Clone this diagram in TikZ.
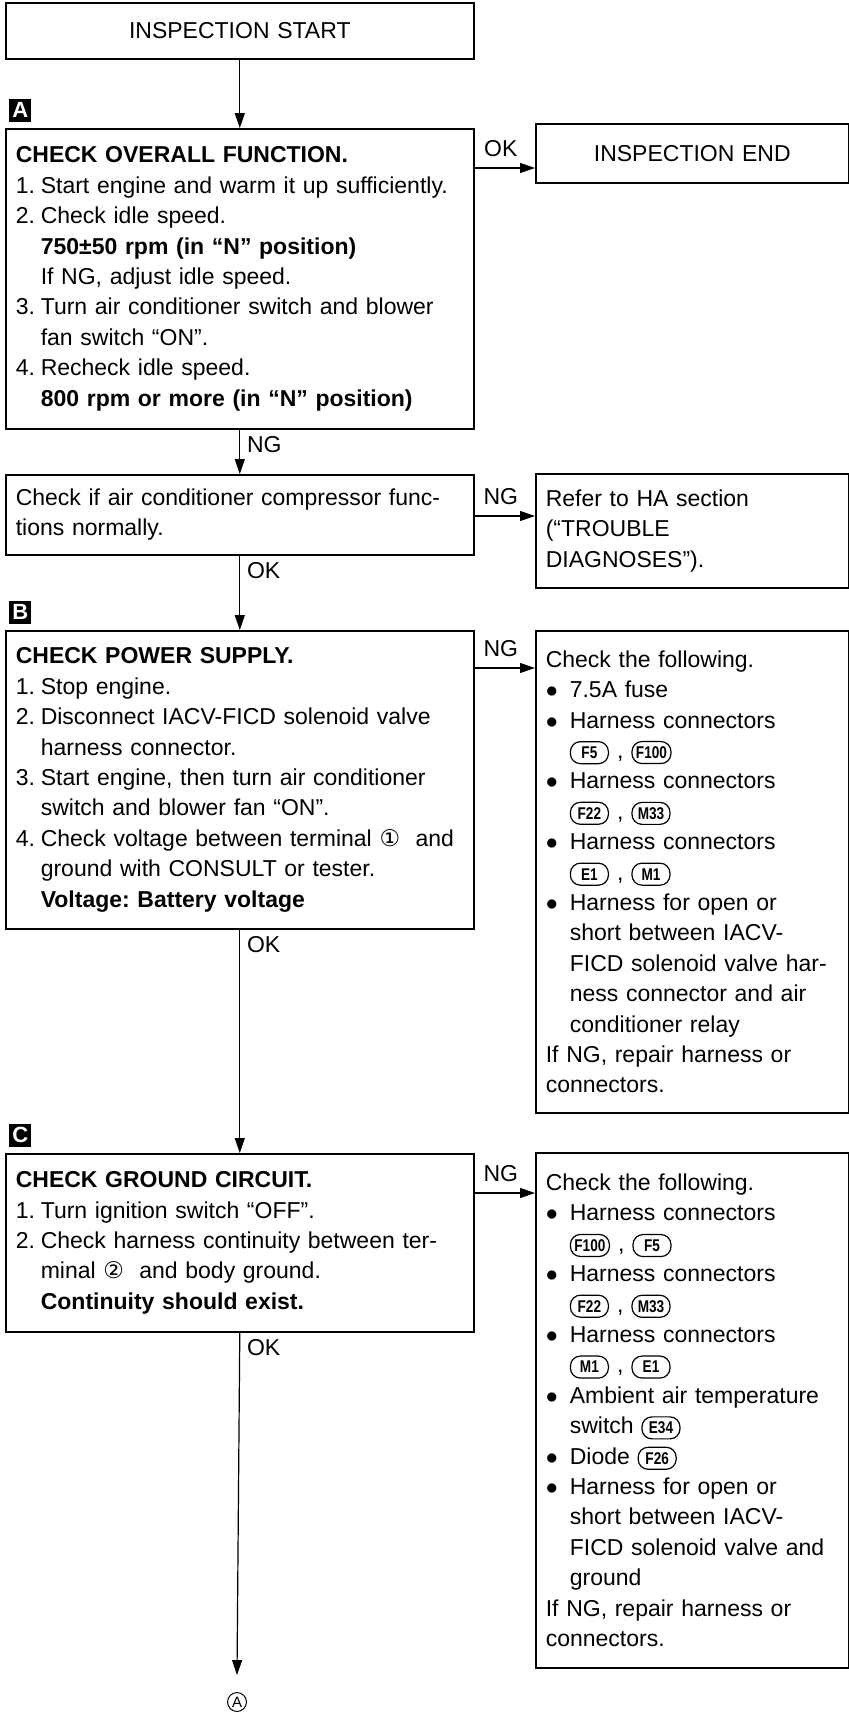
\documentclass[tikz,border=0pt]{standalone}
\usepackage{fontspec}
\setmainfont{Liberation Sans}
\newfontfamily\symfont{DejaVu Sans}
\newfontfamily\badgefont{Liberation Sans}[FakeStretch=0.8]
\usetikzlibrary{arrows.meta,positioning,calc}
\frenchspacing
\hyphenpenalty=10000

% numbered steps, bullets and inline connector badges
\newcommand{\stp}[1]{\makebox[12.5pt][l]{#1}}
\newcommand{\ind}{\hspace*{12.5pt}}
\newcommand{\bul}{\makebox[12pt][l]{$\bullet$}}
\newcommand{\bind}{\hspace*{12pt}}
\newcommand{\pin}[1]{{\symfont #1}}
\newcommand{\conn}[1]{\tikz[baseline=(c.base)]\node[badge](c){#1};}
\newcommand{\sep}{\hspace{4pt},\hspace{4pt}}

\tikzset{
  badge/.style={draw, line width=0.6pt, rounded corners=5pt, anchor=base,
    inner xsep=2pt, inner ysep=0pt, minimum width=19pt, minimum height=11pt,
    text width={}, align=center, font=\badgefont\bfseries\fontsize{8.5}{8.5}\selectfont}
}

\begin{document}
\begin{tikzpicture}[x=0.5pt,y=-0.5pt,
  box/.style={draw, line width=0.8pt, anchor=north west, inner xsep=5pt,
    inner ysep=0pt, align=left, font=\fontsize{11.5}{15.2}\selectfont},
  lbox/.style={box, minimum width=234pt, text width=224pt},
  rbox/.style={box, minimum width=156.5pt, text width=146.5pt},
  tag/.style={fill=black, text=white, inner sep=0pt, minimum width=11pt,
    minimum height=11.5pt, font=\bfseries\fontsize{11}{11}\selectfont},
  lab/.style={font=\fontsize{11.5}{14}\selectfont},
  flow/.style={line width=0.6pt, -{Triangle[length=7.5pt,width=5pt]}}]
\useasboundingbox (0,0) rectangle (849,1719);

% Boxes on the main line
\node[lbox, align=center, minimum height=28pt] (start) at (5,2) {INSPECTION START};

\node[lbox, minimum height=150pt] (chkA) at (5,128) {%
\textbf{CHECK OVERALL FUNCTION.}\\
\stp{1.}Start engine and warm it up sufficiently.\\
\stp{2.}Check idle speed.\\
\ind\textbf{750±50 rpm (in “N” position)}\\
\ind If NG, adjust idle speed.\\
\stp{3.}Turn air conditioner switch and blower\\
\ind fan switch “ON”.\\
\stp{4.}Recheck idle speed.\\
\ind\textbf{800 rpm or more (in “N” position)}};

\node[lbox, minimum height=40pt] (comp) at (5,474) {%
Check if air conditioner compressor func-\\
tions normally.};

\node[lbox, minimum height=149pt] (chkB) at (5,630) {%
\textbf{CHECK POWER SUPPLY.}\\
\stp{1.}Stop engine.\\
\stp{2.}Disconnect IACV-FICD solenoid valve\\
\ind harness connector.\\
\stp{3.}Start engine, then turn air conditioner\\
\ind switch and blower fan “ON”.\\
\stp{4.}Check voltage between terminal \pin{①}\ \ and\\
\ind ground with CONSULT or tester.\\
\ind\textbf{Voltage: Battery voltage}};

\node[lbox, minimum height=89pt] (chkC) at (5,1153) {%
\textbf{CHECK GROUND CIRCUIT.}\\
\stp{1.}Turn ignition switch “OFF”.\\
\stp{2.}Check harness continuity between ter-\\
\ind minal \pin{②}\ \ and body ground.\\
\ind\textbf{Continuity should exist.}};

% Boxes on the right
\node[rbox, align=center, minimum height=29.5pt] (endA) at (535,123) {INSPECTION END};

\node[rbox, minimum height=57pt] (refHA) at (535,473) {%
Refer to HA section\\
(“TROUBLE\\
DIAGNOSES”).};

\node[rbox, minimum height=241pt] (listB) at (535,630) {%
Check the following.\\
\bul 7.5A fuse\\
\bul Harness connectors\\
\bind\conn{F5}\sep\conn{F100}\\
\bul Harness connectors\\
\bind\conn{F22}\sep\conn{M33}\\
\bul Harness connectors\\
\bind\conn{E1}\sep\conn{M1}\\
\bul Harness for open or\\
\bind short between IACV-\\
\bind FICD solenoid valve har-\\
\bind ness connector and air\\
\bind conditioner relay\\
If NG, repair harness or\\
connectors.};

\node[rbox, minimum height=257.5pt] (listC) at (535,1152) {%
Check the following.\\
\bul Harness connectors\\
\bind\conn{F100}\sep\conn{F5}\\
\bul Harness connectors\\
\bind\conn{F22}\sep\conn{M33}\\
\bul Harness connectors\\
\bind\conn{M1}\sep\conn{E1}\\
\bul Ambient air temperature\\
\bind switch \conn{E34}\\
\bul Diode \conn{F26}\\
\bul Harness for open or\\
\bind short between IACV-\\
\bind FICD solenoid valve and\\
\bind ground\\
If NG, repair harness or\\
connectors.};

% Step tags
\node[tag, above right=3pt and 2pt of chkA.north west] (tagA) {A};
\node[tag, above right=3pt and 2pt of chkB.north west] (tagB) {B};
\node[tag, above right=3pt and 2pt of chkC.north west] (tagC) {C};

% Continuation mark
\node[circle, draw, line width=0.5pt, inner sep=0.8pt,
  font=\fontsize{7.5}{7.5}\selectfont] (cont) at (237,1702) {A};

% Connectors down the main line
\draw[flow] (start) -- (chkA);
\draw[flow] (chkA.south) -- node[lab, below right, pos=0] {NG} (comp.north);
\draw[flow] (comp.south) -- node[lab, below right, pos=0] {OK} (chkB.north);
\draw[flow] (chkB.south) -- node[lab, below right, pos=0] {OK} (chkC.north);
\draw[flow] (chkC.south) -- node[lab, below right, pos=0] {OK}
  ($(cont.north)+(0,-17)$);

% Branches to the right
\draw[flow] ($(chkA.north east)+(0,40)$) coordinate (okA)
  -- node[lab, above=2pt, xshift=-2pt] {OK} (okA -| endA.west);
\draw[flow] ($(comp.north east)+(0,42)$) coordinate (ngComp)
  -- node[lab, above=2pt, xshift=-2pt] {NG} (ngComp -| refHA.west);
\draw[flow] ($(chkB.north east)+(0,38)$) coordinate (ngB)
  -- node[lab, above=2pt, xshift=-2pt] {NG} (ngB -| listB.west);
\draw[flow] ($(chkC.north east)+(0,40)$) coordinate (ngC)
  -- node[lab, above=2pt, xshift=-2pt] {NG} (ngC -| listC.west);
\end{tikzpicture}
\end{document}
